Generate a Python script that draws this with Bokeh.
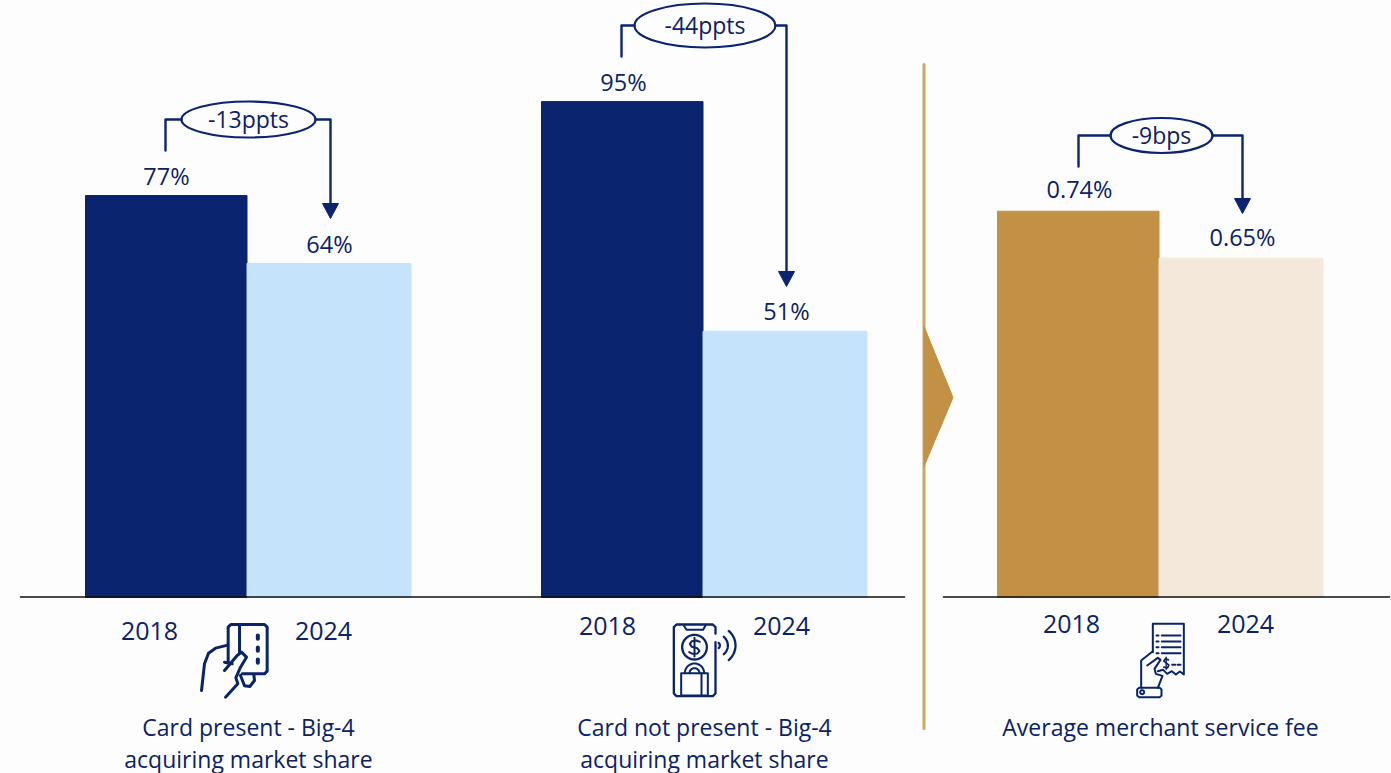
import math

from bokeh.core.properties import value
from bokeh.embed import file_html
from bokeh.models import Range1d
from bokeh.plotting import figure
from bokeh.resources import INLINE

# ---- chart values ----
share_groups = ["Card present", "Card not present"]
share_2018 = [77, 95]
share_2024 = [64, 51]
share_labels_2018 = ["77%", "95%"]
share_labels_2024 = ["64%", "51%"]
share_changes = ["-13ppts", "-44ppts"]
fee_values = [0.74, 0.65]
fee_labels = ["0.74%", "0.65%"]
fee_change = "-9bps"
year_labels = ["2018", "2024"]
caption_left = ["Card present - Big-4", "acquiring market share"]
caption_mid = ["Card not present - Big-4", "acquiring market share"]
caption_right = ["Average merchant service fee"]

# ---- page geometry and palette ----
W, H = 1391, 773
BASE_Y = 597
PX_PER_PCT = 5.22
PX_PER_FEE = 522.0
NAVY = "#0a2470"
SKY = "#c5e3fa"
GOLD = "#c39145"
SAND = "#f3e8da"
INK = "#0b2265"
ICON = "#0a2468"
FONT = value("Open Sans")

p = figure(width=W, height=H, output_backend="svg", toolbar_location=None,
           x_range=Range1d(0, W),
           y_range=Range1d(-(H - BASE_Y) / PX_PER_PCT, BASE_Y / PX_PER_PCT),
           x_axis_type=None, y_axis_type=None, min_border=0,
           background_fill_color="#fdfdfe", border_fill_color="#fdfdfe",
           outline_line_color=None)
p.grid.visible = False
p.extra_y_ranges = {
    "fee": Range1d(-(H - BASE_Y) / PX_PER_FEE, BASE_Y / PX_PER_FEE),
    "px": Range1d(H, 0),
}


def stroke(xs, ys, color=ICON, width=2.0, dash="solid"):
    p.line(xs, ys, y_range_name="px", line_color=color, line_width=width,
           line_join="round", line_cap="round", line_dash=dash)


def label(x, y, txt, size="23px", color=INK):
    p.text([x], [y], text=[txt], y_range_name="px", text_font=FONT, text_font_size=size,
           text_color=color, text_align="center", text_baseline="middle")


# ---- bars ----
p.quad(left=[85, 541], right=[246.5, 702.5], bottom=0, top=share_2018, color=NAVY)
p.quad(left=[246.5, 702.5], right=[410.5, 866.5], bottom=0, top=share_2024, color=SKY)
p.quad(left=[997], right=[1158.5], bottom=0, top=fee_values[:1], color=GOLD, y_range_name="fee")
p.quad(left=[1158.5], right=[1322.5], bottom=0, top=fee_values[1:], color=SAND, y_range_name="fee")

# ---- baselines, divider and chevron ----
stroke([20, 904], [BASE_Y - 0.5, BASE_Y - 0.5], "#111111", 1.6)
stroke([943, 1389], [BASE_Y - 0.5, BASE_Y - 0.5], "#111111", 1.6)
stroke([923.5, 923.5], [64, 728], "#d2a560", 3)
p.patch([923.5, 952.5, 923.5], [326, 397, 466], y_range_name="px", color=GOLD)

# ---- value labels ----
for x, y, t in zip([166, 623], [175, 81], share_labels_2018):
    label(x, y, t, "23.5px")
for x, y, t in zip([329, 786], [243, 310], share_labels_2024):
    label(x, y, t, "23.5px")
for x, y, t in zip([1079, 1242], [188, 236], fee_labels):
    label(x, y, t, "23.5px")

# ---- year labels ----
for x0, x1, y in [(149, 323, 630), (607, 781, 625), (1071, 1245, 623)]:
    label(x0, y, year_labels[0], "25px")
    label(x1, y, year_labels[1], "25px")

# ---- captions ----
for y, t in zip([726, 758], caption_left):
    label(248, y, t, "23px")
for y, t in zip([726, 758], caption_mid):
    label(704, y, t, "23px")
label(1160, 726, caption_right[0], "23px")


# ---- change callouts: ellipse badge, elbow connector, arrow ----
def callout(cx, cy, w, h, txt, x_from, y_from, x_to, tip):
    p.ellipse([cx], [cy], width=w, height=h, y_range_name="px", width_units="screen",
              height_units="screen", fill_color="#fdfdfe", line_color=NAVY, line_width=2.2)
    stroke([x_from, x_from, cx - w / 2], [y_from, cy, cy], NAVY, 2.4)
    stroke([cx + w / 2, x_to, x_to], [cy, cy, tip - 14], NAVY, 2.4)
    p.patch([x_to - 8, x_to + 8, x_to], [tip - 15, tip - 15, tip], y_range_name="px", color=NAVY)
    label(cx, cy - 1, txt, "23px")


callout(248, 119, 134, 36, share_changes[0], 165, 150, 330, 218)
callout(704.5, 25, 141, 44, share_changes[1], 621, 56, 786, 286)
callout(1161, 135, 102, 35, fee_change, 1078, 166, 1242, 213)


# ---- icons, sketched on a 3x grid local to each icon ----
def icon_line(ox, oy, pts, width=2.0):
    stroke([ox + a / 3 for a, _ in pts], [oy + b / 3 for _, b in pts], ICON, width)


def icon_arc(ox, oy, cx, cy, r, a0, a1, width=2.0, n=24):
    pts = [(cx + r * math.cos(math.radians(a0 + (a1 - a0) * i / n)),
            cy + r * math.sin(math.radians(a0 + (a1 - a0) * i / n))) for i in range(n + 1)]
    icon_line(ox, oy, pts, width)


# card held in a hand
ox, oy = 140, 600
icon_line(ox, oy, [(263, 185), (263, 80), (271, 72), (372, 72), (380, 80), (380, 212), (372, 220), (305, 220)], 3.0)
icon_line(ox, oy, [(297, 72), (297, 155)], 3.0)
for yy in (110, 146, 182):
    icon_line(ox, oy, [(352, yy - 5), (352, yy + 5)], 4.0)
icon_line(ox, oy, [(183, 270), (192, 190), (204, 158), (225, 143), (262, 134)], 3.0)
icon_line(ox, oy, [(252, 210), (290, 165), (303, 155), (318, 170), (300, 200), (286, 232), (292, 250), (255, 290)], 3.0)
icon_line(ox, oy, [(252, 185), (275, 190)], 3.0)
icon_line(ox, oy, [(300, 225), (312, 256), (328, 258), (342, 240), (340, 222)], 3.0)

# phone with coin, shopping bag and contactless waves
ox, oy = 620, 600
icon_line(ox, oy, [(285, 100), (285, 80), (277, 72), (168, 72), (160, 80), (160, 279), (168, 287), (277, 287), (285, 279), (285, 125)], 2.3)
icon_line(ox, oy, [(190, 75), (198, 88), (248, 88), (255, 75)], 2.0)
icon_arc(ox, oy, 222, 140, 37, 0, 360, 2.3, 48)
icon_line(ox, oy, [(238, 124), (228, 120), (214, 122), (208, 130), (214, 139), (230, 143), (237, 151), (231, 159), (216, 160), (206, 155)], 2.0)
icon_line(ox, oy, [(222, 112), (222, 168)], 2.0)
icon_line(ox, oy, [(182, 218), (262, 218), (262, 285), (182, 285), (182, 218)], 2.0)
icon_line(ox, oy, [(243, 218), (243, 285)], 2.0)
icon_arc(ox, oy, 222, 218, 29, 180, 360, 2.0)
icon_arc(ox, oy, 222, 218, 15, 180, 360, 2.0)
icon_arc(ox, oy, 288, 135, 10, -50, 50, 2.3)
icon_arc(ox, oy, 288, 135, 34, -50, 50, 2.3)
icon_arc(ox, oy, 288, 135, 57, -50, 50, 2.3)

# receipt in a hand
ox, oy = 1100, 610
icon_line(ox, oy, [(157, 125), (157, 40), (250, 40), (250, 192), (238, 183), (226, 192), (214, 182), (200, 190), (188, 178), (172, 182)], 2.0)
for yy in (75, 93, 110, 128):
    icon_line(ox, oy, [(168, yy), (174, yy)], 2.0)
    icon_line(ox, oy, [(184, yy), (240, yy)], 2.0)
icon_line(ox, oy, [(204, 148), (194, 145), (190, 152), (198, 158), (205, 164), (201, 172), (190, 170)], 1.7)
icon_line(ox, oy, [(197, 140), (197, 177)], 1.4)
icon_line(ox, oy, [(215, 163), (224, 163)], 2.0)
icon_line(ox, oy, [(231, 163), (240, 163)], 2.0)
icon_line(ox, oy, [(122, 232), (122, 150), (157, 122)], 2.0)
icon_line(ox, oy, [(140, 165), (172, 142), (180, 148), (162, 175), (166, 190), (186, 196), (172, 232)], 2.0)
icon_line(ox, oy, [(116, 232), (178, 232), (183, 237), (183, 255), (178, 260), (116, 260), (110, 255), (110, 237), (116, 232)], 2.0)
icon_arc(ox, oy, 125, 245, 6, 0, 360, 2.0)

open("out.html", "w").write(file_html(p, INLINE))
